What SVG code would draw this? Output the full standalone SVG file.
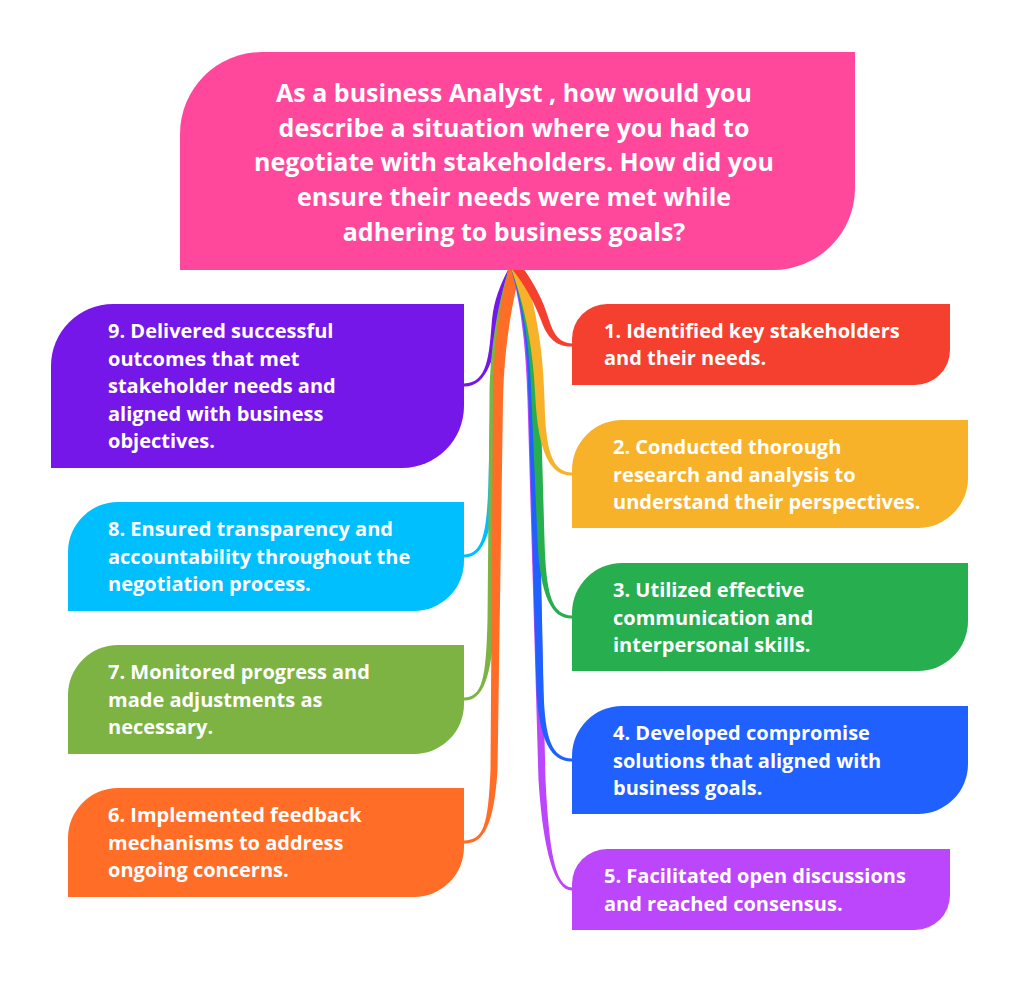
<svg xmlns="http://www.w3.org/2000/svg" width="1019" height="982" viewBox="0 0 1019 982">
<style>
.t{font-family:"Open Sans","Noto Sans",sans-serif;font-weight:700;fill:#fff;font-size:20px}
.c{font-family:"Open Sans","Noto Sans",sans-serif;font-weight:700;fill:#fff;font-size:25px;text-anchor:middle}
</style>
<rect width="1019" height="982" fill="#fff"/>
<g id="connectors">
<path fill="#7517E8" d="M521 268 C510 285, 504 300, 500 320 C495 355, 488 387, 464 386.5 L464 383.5 C488 383, 489 355, 492 320 C494 300, 500 285, 509 268 Z"/>
<path fill="#00BFFF" d="M521 268 C510.5 300, 501 340, 499.5 400 L495.5 480 C493 535, 482 558, 464 557.5 L464 554.5 C482 554, 487 535, 488.5 480 L490.5 400 C491 340, 499.5 300, 509 268 Z"/>
<path fill="#7CB342" d="M521 268 C510.5 300, 500 340, 498.5 400 L494.5 620 C492 680, 482 701, 464 700.5 L464 697.5 C482 697, 486 680, 487.5 620 L489.5 400 C490 340, 499.5 300, 509 268 Z"/>
<path fill="#FF6D27" d="M521 268 C513 300, 504.5 340, 503 400 L497.5 770 C494 825, 484 844, 464 843.5 L464 840.5 C484 840, 488 825, 490.5 770 L493 400 C493.5 340, 501 300, 509 268 Z"/>
<path fill="#BC46FB" d="M523 268 C530.5 300, 536 340, 536.5 400 L545.5 780 C549 850, 555 887, 572 887.5 L572 890.5 C555 891, 543 852, 538.5 780 L527.5 400 C526 340, 519.5 300, 511 268 Z"/>
<path fill="#1F60FF" d="M523 268 C531.5 300, 538 340, 537.5 400 L543.5 690 C545 740, 552 758, 572 758.5 L572 761.5 C552 762, 539 742, 536.5 690 L528.5 400 C528 340, 520.5 300, 511 268 Z"/>
<path fill="#27AE4F" d="M523 268 C532.5 300, 540 340, 540.5 400 L544.5 540 C546 595, 552 615, 572 615.5 L572 618.5 C552 619, 540 597, 537.5 540 L531.5 400 C530 340, 521.5 300, 511 268 Z"/>
<path fill="#F7B22A" d="M523 268 C533.5 300, 543 340, 544.5 400 C545.5 448, 551 472, 572 472.5 L572 475.5 C550 476, 538.5 452, 535.5 400 C533 340, 522.5 300, 511 268 Z"/>
<path fill="#F53F2F" d="M523 268 C535 285, 543 300, 549 320 C554 336, 560 343, 572 343.5 L572 346.5 C558 347, 548 340, 541 320 C533 300, 525 285, 511 268 Z"/>
</g>
<g id="center">
<path fill="#FF479C" d="M262 52 H855 V188 A82 82 0 0 1 773 270 H180 V134 A82 82 0 0 1 262 52 Z"/>
<text class="c" x="514" y="102">As a business Analyst , how would you</text>
<text class="c" x="514" y="137">describe a situation where you had to</text>
<text class="c" x="514" y="171">negotiate with stakeholders. How did you</text>
<text class="c" x="514" y="206">ensure their needs were met while</text>
<text class="c" x="514" y="241">adhering to business goals?</text>
</g>
<g id="n1">
<path fill="#F53F2F" d="M607 304 H950 V350 A35 35 0 0 1 915 385 H572 V339 A35 35 0 0 1 607 304 Z"/>
<text class="t" x="604" y="338">1. Identified key stakeholders</text>
<text class="t" x="604" y="365">and their needs.</text>
</g>
<g id="n2">
<path fill="#F7B22A" d="M622 420 H968 V478 A50 50 0 0 1 918 528 H572 V470 A50 50 0 0 1 622 420 Z"/>
<text class="t" x="613" y="454">2. Conducted thorough</text>
<text class="t" x="613" y="482">research and analysis to</text>
<text class="t" x="613" y="509">understand their perspectives.</text>
</g>
<g id="n3">
<path fill="#27AE4F" d="M622 563 H968 V621 A50 50 0 0 1 918 671 H572 V613 A50 50 0 0 1 622 563 Z"/>
<text class="t" x="613" y="597">3. Utilized effective</text>
<text class="t" x="613" y="625">communication and</text>
<text class="t" x="613" y="652">interpersonal skills.</text>
</g>
<g id="n4">
<path fill="#1F60FF" d="M622 706 H968 V764 A50 50 0 0 1 918 814 H572 V756 A50 50 0 0 1 622 706 Z"/>
<text class="t" x="613" y="740">4. Developed compromise</text>
<text class="t" x="613" y="768">solutions that aligned with</text>
<text class="t" x="613" y="795">business goals.</text>
</g>
<g id="n5">
<path fill="#BC46FB" d="M607 849 H950 V895 A35 35 0 0 1 915 930 H572 V884 A35 35 0 0 1 607 849 Z"/>
<text class="t" x="604" y="883">5. Facilitated open discussions</text>
<text class="t" x="604" y="911">and reached consensus.</text>
</g>
<g id="n9">
<path fill="#7517E8" d="M113 304 H464 V406 A62 62 0 0 1 402 468 H51 V366 A62 62 0 0 1 113 304 Z"/>
<text class="t" x="108" y="338">9. Delivered successful</text>
<text class="t" x="108" y="366">outcomes that met</text>
<text class="t" x="108" y="393">stakeholder needs and</text>
<text class="t" x="108" y="421">aligned with business</text>
<text class="t" x="108" y="448">objectives.</text>
</g>
<g id="n8">
<path fill="#00BFFF" d="M118 502 H464 V561 A50 50 0 0 1 414 611 H68 V552 A50 50 0 0 1 118 502 Z"/>
<text class="t" x="108" y="536">8. Ensured transparency and</text>
<text class="t" x="108" y="564">accountability throughout the</text>
<text class="t" x="108" y="591">negotiation process.</text>
</g>
<g id="n7">
<path fill="#7CB342" d="M118 645 H464 V704 A50 50 0 0 1 414 754 H68 V695 A50 50 0 0 1 118 645 Z"/>
<text class="t" x="108" y="679">7. Monitored progress and</text>
<text class="t" x="108" y="707">made adjustments as</text>
<text class="t" x="108" y="734">necessary.</text>
</g>
<g id="n6">
<path fill="#FF6D27" d="M118 788 H464 V847 A50 50 0 0 1 414 897 H68 V838 A50 50 0 0 1 118 788 Z"/>
<text class="t" x="108" y="822">6. Implemented feedback</text>
<text class="t" x="108" y="850">mechanisms to address</text>
<text class="t" x="108" y="877">ongoing concerns.</text>
</g>
</svg>
